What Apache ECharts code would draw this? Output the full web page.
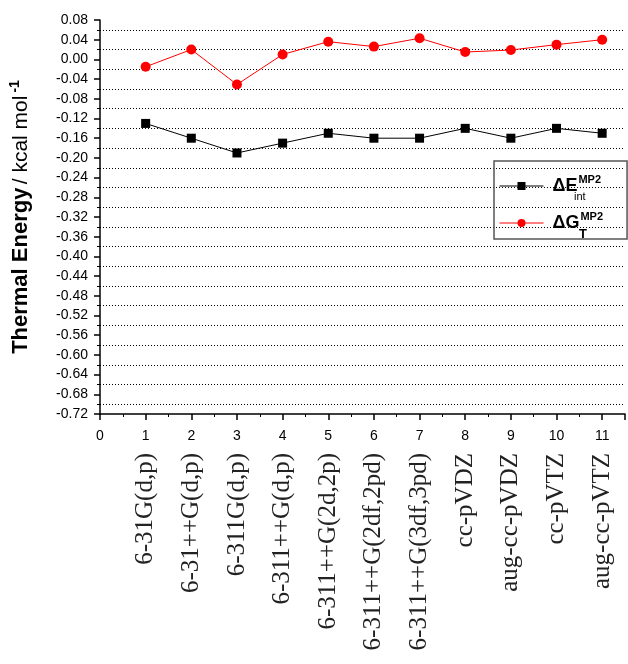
<!DOCTYPE html>
<html>
<head>
<meta charset="utf-8">
<script src="https://cdn.jsdelivr.net/npm/echarts@6/dist/echarts.min.js"></script>
<style>
html,body{margin:0;padding:0;background:#fff;}
#chart{width:628px;height:664px;}
</style>
</head>
<body>
<div id="chart"></div>
<script>
// ---- data ----
var xPositions = [1, 2, 3, 4, 5, 6, 7, 8, 9, 10, 11];
var basisSets = ['6-31G(d,p)', '6-31++G(d,p)', '6-311G(d,p)', '6-311++G(d,p)', '6-311++G(2d,2p)',
  '6-311++G(2df,2pd)', '6-311++G(3df,3pd)', 'cc-pVDZ', 'aug-cc-pVDZ', 'cc-pVTZ', 'aug-cc-pVTZ'];
var dEint = [-0.13, -0.16, -0.19, -0.17, -0.15, -0.16, -0.16, -0.14, -0.16, -0.14, -0.15];
var dGT = [-0.015, 0.02, -0.051, 0.01, 0.036, 0.026, 0.043, 0.015, 0.019, 0.03, 0.04];
var seriesNames = ['dE', 'dG'];

var FONT = 'Liberation Sans, Arial, sans-serif';
function pairs(vals){ return xPositions.map(function(x,i){ return [x, vals[i]]; }); }

var chart = echarts.init(document.getElementById('chart'), null, {renderer:'canvas'});
chart.setOption({
  backgroundColor: '#fff',
  animation: false,
  grid: {left: 100, right: -3, top: 20, bottom: 250},
  legend: {
    left: 494, top: 161, orient: 'vertical',
    borderColor: '#555', borderWidth: 1.5, padding: [13, 24, 7, 5],
    itemWidth: 44, itemHeight: 10, itemGap: 16,
    lineStyle: {width: 1, type: 'solid'},
    data: seriesNames,
    formatter: function(n){
      return n === 'dE' ? '{m|ΔE}{s|MP2}' : '{m|ΔG}{s|MP2}';
    },
    textStyle: {
      fontFamily: FONT, color: '#000',
      rich: {
        m: {fontSize: 18, fontWeight: 'bold', fontFamily: FONT, lineHeight: 24, padding: [0,0,0,4]},
        s: {fontSize: 11, fontWeight: 'bold', fontFamily: FONT, lineHeight: 12, verticalAlign: 'top', padding:[0,0,0,1]}
      }
    }
  },
  graphic: [
    {type: 'text', left: 574, top: 191, style: {text: 'int', font: '11px ' + FONT, fill: '#000'}},
    {type: 'text', left: 579, top: 228, style: {text: 'T', font: 'bold 13px ' + FONT, fill: '#000'}}
  ],
  xAxis: [{
    type: 'value', min: 0, max: 11.5, interval: 1,
    axisLine: {show: true, onZero: false, lineStyle: {color: '#000', width: 1.5}},
    axisTick: {show: true, length: 6, lineStyle: {color: '#000', width: 1.5}},
    minorTick: {show: true, splitNumber: 2, length: 3, lineStyle: {color: '#000', width: 1}},
    splitLine: {show: false},
    axisLabel: {
      fontFamily: FONT, fontSize: 14, color: '#000', margin: 15,
      formatter: function(v){ return Math.abs(v - Math.round(v)) < 1e-9 ? String(Math.round(v)) : ''; }
    }
  }, {
    type: 'value', min: 0, max: 11.5, interval: 1, position: 'bottom',
    axisLine: {show: false}, axisTick: {show: false}, splitLine: {show: false},
    axisLabel: {
      rotate: 90, margin: 39, fontFamily: 'Liberation Serif, Times New Roman, serif',
      fontSize: 25, color: '#222',
      formatter: function(v){
        var i = Math.round(v);
        if (Math.abs(v - i) > 1e-9) return '';
        return basisSets[i - 1] || '';
      }
    }
  }],
  yAxis: {
    type: 'value', min: -0.72, max: 0.08, interval: 0.04,
    name: '{b|Thermal Energy} {n|/ kcal mol}{s|-1}',
    nameLocation: 'middle', nameRotate: 90, nameGap: 66,
    nameTextStyle: {
      rich: {
        b: {fontFamily: FONT, fontSize: 22, fontWeight: 'bold', color: '#000', lineHeight: 26},
        n: {fontFamily: FONT, fontSize: 21, color: '#000', lineHeight: 26},
        s: {fontFamily: FONT, fontSize: 14, fontWeight: 'bold', color: '#000', lineHeight: 14, verticalAlign: 'top', padding: [0,0,0,3]}
      }
    },
    axisLine: {show: true, lineStyle: {color: '#000', width: 1.5}},
    axisTick: {show: true, length: 6, lineStyle: {color: '#000', width: 1.5}},
    minorTick: {show: true, splitNumber: 2, length: 3, lineStyle: {color: '#000', width: 1}},
    splitLine: {show: false},
    minorSplitLine: {show: true, lineStyle: {color: '#000', width: 1, type: [1, 2]}},
    axisLabel: {
      fontFamily: FONT, fontSize: 14, color: '#000', margin: 12,
      formatter: function(v){ return Math.abs(v) < 1e-9 ? '0.00' : v.toFixed(2); }
    }
  },
  series: [{
    name: 'dE', type: 'line', data: pairs(dEint),
    symbol: 'rect', symbolSize: 9,
    itemStyle: {color: '#000'}, lineStyle: {color: '#000', width: 1}
  }, {
    name: 'dG', type: 'line', data: pairs(dGT),
    symbol: 'circle', symbolSize: 10,
    itemStyle: {color: '#ff0000'}, lineStyle: {color: '#ff0000', width: 1}
  }]
});
</script>
</body>
</html>
